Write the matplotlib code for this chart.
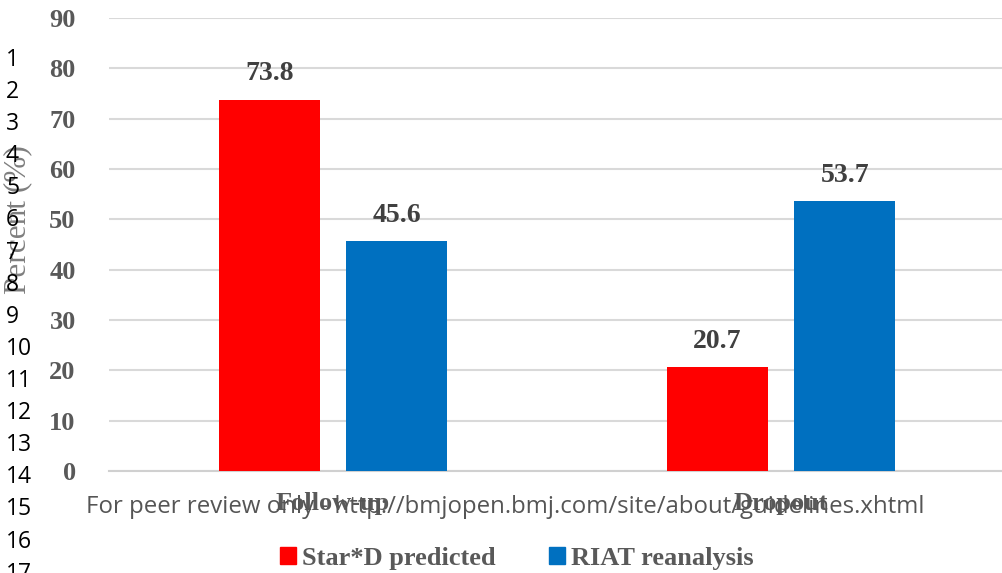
import matplotlib.pyplot as plt
import numpy as np

# data
categories = ['Follow-up', 'Dropout']
series_names = ['Star*D predicted', 'RIAT reanalysis']
star_d = [73.8, 20.7]
riat = [45.6, 53.7]
yticks = [0, 10, 20, 30, 40, 50, 60, 70, 80, 90]
line_numbers = [str(i) for i in range(1, 18)]
footer = 'For peer review only - http://bmjopen.bmj.com/site/about/guidelines.xhtml'

W, H = 1002, 573
fig = plt.figure(figsize=(W / 100, H / 100), dpi=100)
# plot area in pixels: x 109..1005, y 18..471
ax = fig.add_axes([109 / W, 1 - 471 / H, (1005 - 109) / W, (471 - 18) / H])

serif = ['Liberation Serif', 'DejaVu Serif']
sans = ['Open Sans', 'DejaVu Sans']
red = '#ff0000'
blue = '#0070c0'
tick_col = '#595959'

x = np.arange(len(categories))
bw = 0.225
off = 0.1425
b1 = ax.bar(x - off, star_d, bw, color=red, zorder=3)
b2 = ax.bar(x + off, riat, bw, color=blue, zorder=3)

for bars, vals in ((b1, star_d), (b2, riat)):
    for rect, v in zip(bars, vals):
        ax.text(rect.get_x() + rect.get_width() / 2, v + 2.6, f'{v:.1f}',
                ha='center', va='bottom', fontsize=20, fontweight='bold',
                family=serif, color='#404040')

ax.set_xlim(-0.5, 1.5)
ax.set_ylim(0, 90)
ax.set_yticks(yticks)
ax.yaxis.grid(True, color='#d9d9d9', linewidth=1.5, zorder=0)
ax.set_axisbelow(True)
for s in ['top', 'right', 'left']:
    ax.spines[s].set_visible(False)
ax.spines['bottom'].set_color('#d0d0d0')
ax.spines['bottom'].set_linewidth(1.5)
ax.tick_params(axis='y', length=0, pad=24)
ax.tick_params(axis='x', length=0, pad=15)
ax.set_xticks(x)
ax.set_xticklabels(categories)
for lab in ax.get_yticklabels() + ax.get_xticklabels():
    lab.set_family(serif)
    lab.set_fontweight('bold')
    lab.set_fontsize(19)
    lab.set_color(tick_col)

# y axis title
fig.text(18 / W, 1 - 220 / H, 'Percent (%)', rotation=90, ha='center', va='center',
         fontsize=22.5, family=serif, color='#7f7f7f')

# legend
handles = [plt.Rectangle((0, 0), 1, 1, color=red), plt.Rectangle((0, 0), 1, 1, color=blue)]
fig.legend(handles, series_names, loc='center', bbox_to_anchor=(517 / W, 1 - 558 / H),
           ncol=2, frameon=False, handlelength=0.6, handleheight=0.6, handletextpad=0.25,
           columnspacing=2.0, prop={'family': serif, 'weight': 'bold', 'size': 19},
           labelcolor=tick_col)

# page artefacts from the review pdf
for i, n in enumerate(line_numbers):
    fig.text(6 / W, 1 - (60 + i * 32.1) / H, n, ha='left', va='center',
             fontsize=16.5, family=sans, color='black')
fig.text(505 / W, 1 - 507 / H, footer, ha='center', va='center', fontsize=17.3,
         family=sans, color='#555555')

fig.savefig('out.png', dpi=100)
